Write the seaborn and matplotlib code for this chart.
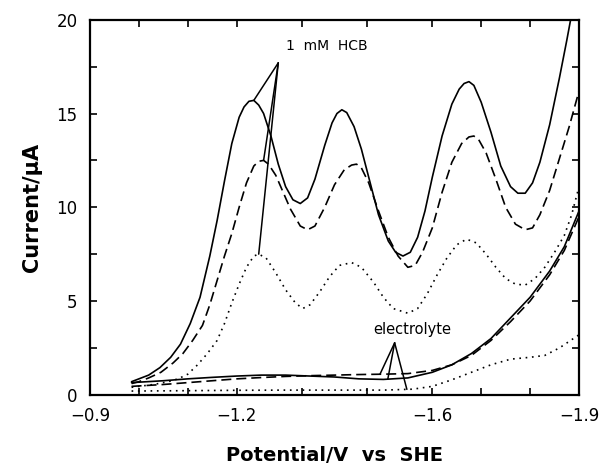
import numpy as np
import pandas as pd
import matplotlib
matplotlib.use("Agg")
import matplotlib.pyplot as plt
import seaborn as sns

# ---------------- data (potential V vs SHE, current uA) ----------------
hcb_solid_V = [-0.985, -1.00, -1.02, -1.043, -1.065, -1.085, -1.105, -1.125, -1.145, -1.16,
               -1.175, -1.19, -1.205, -1.215, -1.225, -1.235, -1.245, -1.255, -1.27, -1.285,
               -1.30, -1.315, -1.33, -1.345, -1.36, -1.38, -1.395, -1.405, -1.415, -1.425,
               -1.44, -1.455, -1.47, -1.49, -1.51, -1.525, -1.54, -1.555, -1.57, -1.585,
               -1.60, -1.62, -1.64, -1.655, -1.665, -1.675, -1.685, -1.70, -1.72, -1.74,
               -1.76, -1.775, -1.79, -1.805, -1.82, -1.84, -1.86, -1.875, -1.89]
hcb_solid_I = [0.7, 0.85, 1.05, 1.45, 2.0, 2.7, 3.8, 5.2, 7.4, 9.3,
               11.4, 13.4, 14.8, 15.35, 15.65, 15.7, 15.45, 15.0, 13.8, 12.3,
               11.1, 10.4, 10.2, 10.5, 11.5, 13.3, 14.5, 15.0, 15.2, 15.05,
               14.3, 13.1, 11.6, 9.6, 8.2, 7.6, 7.4, 7.6, 8.4, 9.8,
               11.6, 13.8, 15.5, 16.3, 16.6, 16.7, 16.5, 15.6, 14.0, 12.2,
               11.1, 10.75, 10.75, 11.3, 12.4, 14.4, 16.9, 18.9, 21.0]

hcb_dash_V = [-0.985, -1.00, -1.02, -1.045, -1.07, -1.09, -1.11, -1.13, -1.145, -1.16,
              -1.175, -1.19, -1.205, -1.22, -1.235, -1.245, -1.255, -1.265, -1.28, -1.295,
              -1.31, -1.33, -1.345, -1.36, -1.38, -1.40, -1.42, -1.435, -1.445, -1.455,
              -1.47, -1.49, -1.51, -1.53, -1.55, -1.565, -1.58, -1.60, -1.62, -1.64,
              -1.66, -1.675, -1.685, -1.695, -1.71, -1.73, -1.75, -1.77, -1.79, -1.805,
              -1.82, -1.84, -1.86, -1.88, -1.90]
hcb_dash_I = [0.6, 0.7, 0.9, 1.2, 1.7, 2.2, 2.9, 3.7, 4.8, 6.1,
              7.4, 8.6, 10.0, 11.3, 12.2, 12.45, 12.5, 12.3, 11.7, 10.8,
              9.9, 9.0, 8.8, 9.0, 10.0, 11.2, 12.0, 12.25, 12.3, 12.1,
              11.3, 9.8, 8.4, 7.4, 6.8, 6.9, 7.6, 8.9, 10.8, 12.4,
              13.4, 13.75, 13.8, 13.6, 12.9, 11.5, 10.0, 9.1, 8.8, 8.9,
              9.6, 10.9, 12.6, 14.3, 16.2]

hcb_dot_V = [-0.985, -1.00, -1.03, -1.06, -1.08, -1.10, -1.12, -1.14, -1.16, -1.175,
             -1.19, -1.205, -1.22, -1.235, -1.245, -1.26, -1.28, -1.30, -1.32, -1.335,
             -1.35, -1.37, -1.39, -1.41, -1.435, -1.455, -1.48, -1.50, -1.52, -1.55,
             -1.57, -1.59, -1.61, -1.63, -1.65, -1.67, -1.69, -1.71, -1.73, -1.75,
             -1.77, -1.79, -1.81, -1.83, -1.85, -1.87, -1.885, -1.90]
hcb_dot_I = [0.4, 0.45, 0.55, 0.7, 0.85, 1.1, 1.6, 2.2, 2.9, 3.8,
             4.9, 5.9, 6.8, 7.4, 7.5, 7.3, 6.5, 5.6, 4.9, 4.6,
             4.8, 5.5, 6.3, 6.9, 7.05, 6.8, 6.0, 5.2, 4.6, 4.35,
             4.6, 5.4, 6.4, 7.3, 8.0, 8.3, 8.1, 7.5, 6.8, 6.2,
             5.9, 5.85, 6.2, 6.8, 7.6, 8.5, 9.6, 11.1]

el_solid_V = [-0.985, -1.05, -1.10, -1.15, -1.20, -1.25, -1.30, -1.35, -1.40, -1.45,
              -1.50, -1.55, -1.60, -1.64, -1.68, -1.72, -1.76, -1.80, -1.84, -1.87, -1.90]
el_solid_I = [0.65, 0.75, 0.85, 0.93, 1.0, 1.05, 1.05, 1.0, 0.95, 0.85,
              0.82, 0.9, 1.2, 1.6, 2.2, 3.0, 4.1, 5.2, 6.6, 7.9, 9.8]

el_dash_V = [-0.985, -1.05, -1.10, -1.15, -1.20, -1.25, -1.30, -1.35, -1.40, -1.45,
             -1.50, -1.55, -1.60, -1.64, -1.68, -1.72, -1.76, -1.80, -1.84, -1.87, -1.90]
el_dash_I = [0.45, 0.55, 0.65, 0.75, 0.85, 0.92, 0.98, 1.02, 1.05, 1.08,
             1.1, 1.13, 1.3, 1.6, 2.1, 2.9, 3.9, 5.0, 6.4, 7.7, 9.5]

el_dot_V = [-0.985, -1.10, -1.20, -1.30, -1.40, -1.50, -1.56, -1.60, -1.64, -1.68,
            -1.72, -1.76, -1.80, -1.83, -1.86, -1.90]
el_dot_I = [0.2, 0.22, 0.24, 0.25, 0.25, 0.25, 0.3, 0.45, 0.8, 1.2,
            1.6, 1.9, 2.0, 2.1, 2.5, 3.2]

x_ticks = [-0.9, -1.0, -1.1, -1.2, -1.3333, -1.4667, -1.6, -1.7, -1.8, -1.9]
x_ticklabels = ["\u22120.9", "", "", "\u22121.2", "", "", "\u22121.6", "", "", "\u22121.9"]
y_ticks = [0, 2.5, 5, 7.5, 10, 12.5, 15, 17.5, 20]
y_ticklabels = ["0", "", "5", "", "10", "", "15", "", "20"]

# ---------------- build figure ----------------
sns.set_style("ticks")
plt.rcParams['font.family'] = ['DejaVu Sans']
plt.rcParams['text.color'] = 'black'
plt.rcParams['axes.labelcolor'] = 'black'

fig = plt.figure(figsize=(6, 4.7), dpi=100)
ax = fig.add_axes([0.15, 0.16, 0.815, 0.798])

dash = (0, (6, 3))
dot = (0, (1, 2.8))
series = [
    (hcb_solid_V, hcb_solid_I, '-'),
    (hcb_dash_V, hcb_dash_I, dash),
    (hcb_dot_V, hcb_dot_I, dot),
    (el_solid_V, el_solid_I, '-'),
    (el_dash_V, el_dash_I, dash),
    (el_dot_V, el_dot_I, dot),
]
for V, I, ls in series:
    df = pd.DataFrame({"V": V, "I": I})
    sns.lineplot(data=df, x="V", y="I", ax=ax, sort=False, estimator=None,
                 color="black", lw=1.2, linestyle=ls, legend=False)

ax.set_xlim(-0.9, -1.9)
ax.set_ylim(0, 20)
ax.set_xticks(x_ticks)
ax.set_xticklabels(x_ticklabels)
ax.set_yticks(y_ticks)
ax.set_yticklabels(y_ticklabels)
ax.tick_params(direction='in', length=5, width=1.2, top=True, right=True,
               labelsize=12, colors='black', pad=9)
for s in ax.spines.values():
    s.set_visible(True)
    s.set_linewidth(1.6)
    s.set_color('black')

ax.set_xlabel("Potential/V  vs  SHE", fontsize=14, fontweight='bold', labelpad=15, color='black')
ax.set_ylabel("Current/\u03bcA", fontsize=15, fontweight='bold', labelpad=10, color='black')

# ---------------- annotations ----------------
def first_peak(V, I):
    V = np.asarray(V); I = np.asarray(I)
    m = V > -1.3
    k = np.argmax(np.where(m, I, -1))
    return V[k], I[k]

apex = (-1.285, 17.7)
for V, I in [(hcb_solid_V, hcb_solid_I), (hcb_dash_V, hcb_dash_I), (hcb_dot_V, hcb_dot_I)]:
    pv, pi = first_peak(V, I)
    ax.plot([apex[0], pv], [apex[1], pi], color='black', lw=1.1)
ax.text(-1.30, 18.6, "1  mM  HCB", fontsize=10, ha='left', va='center', color='black')

apex2 = (-1.523, 2.77)
for V, I, xv in [(el_dash_V, el_dash_I, -1.493), (el_solid_V, el_solid_I, -1.509),
                 (el_dot_V, el_dot_I, -1.548)]:
    yv = np.interp(-xv, -np.asarray(V), np.asarray(I))
    ax.plot([apex2[0], xv], [apex2[1], yv], color='black', lw=1.1)
ax.text(-1.56, 3.47, "electrolyte", fontsize=10.5, ha='center', va='center', color='black')

fig.savefig("out.png", dpi=100)
